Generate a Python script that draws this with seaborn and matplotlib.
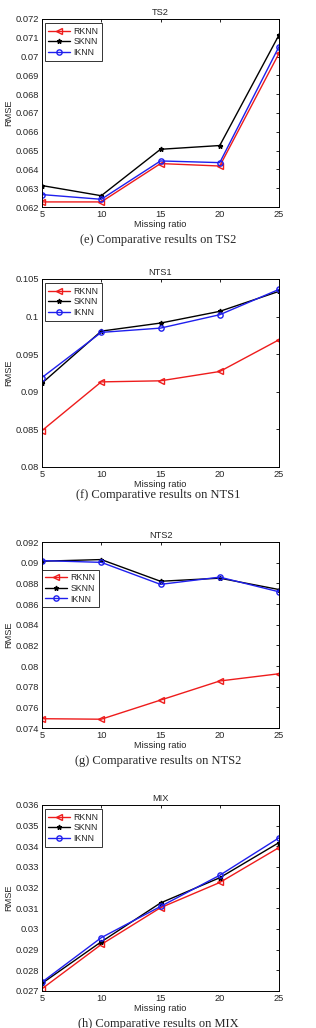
import matplotlib
matplotlib.use("Agg")
import matplotlib.pyplot as plt
import matplotlib.ticker as mticker
import seaborn as sns
import pandas as pd

# Data
ratios = [5, 10, 15, 20, 25]
methods = ["RKNN", "SKNN", "IKNN"]

ts2_rknn = [0.06227, 0.06227, 0.06431, 0.06418, 0.07017]
ts2_sknn = [0.06314, 0.06260, 0.06507, 0.06527, 0.07115]
ts2_iknn = [0.06266, 0.06241, 0.06445, 0.06436, 0.07053]

nts1_rknn = [0.08484, 0.09132, 0.09146, 0.09270, 0.09692]
nts1_sknn = [0.09115, 0.09807, 0.09914, 0.10070, 0.10336]
nts1_iknn = [0.09190, 0.09790, 0.09847, 0.10025, 0.10362]

nts2_rknn = [0.07490, 0.07485, 0.07670, 0.07855, 0.07925]
nts2_sknn = [0.09014, 0.09030, 0.08820, 0.08850, 0.08740]
nts2_iknn = [0.09020, 0.09003, 0.08790, 0.08860, 0.08718]

mix_rknn = [0.02711, 0.02925, 0.03103, 0.03225, 0.03394]
mix_sknn = [0.02737, 0.02938, 0.03126, 0.03248, 0.03418]
mix_iknn = [0.02743, 0.02958, 0.03109, 0.03260, 0.03441]

titles = ["TS2", "NTS1", "NTS2", "MIX"]
captions = ["(e) Comparative results on TS2", "(f) Comparative results on NTS1",
            "(g) Comparative results on NTS2", "(h) Comparative results on MIX"]
ylims = [(0.062, 0.072), (0.08, 0.105), (0.074, 0.092), (0.027, 0.036)]
ysteps = [0.001, 0.005, 0.002, 0.001]
series = [(ts2_rknn, ts2_sknn, ts2_iknn), (nts1_rknn, nts1_sknn, nts1_iknn),
          (nts2_rknn, nts2_sknn, nts2_iknn), (mix_rknn, mix_sknn, mix_iknn)]

sns.set_style("white")
plt.rcParams["font.family"] = ["Liberation Sans", "DejaVu Sans"]
plt.rcParams["font.size"] = 6.5

fig = plt.figure(figsize=(3.16, 10.28), dpi=100)

# axes boxes in pixels: (top, bottom)
boxes = [(19, 207), (279, 467), (542, 728), (805, 991)]
caption_y = [240, 495, 761, 1024]
legend_anchor = [(0.012, 0.978), (0.012, 0.978), (0.0, 0.852), (0.012, 0.978)]

colors = {"RKNN": "#ee1c1c", "SKNN": "black", "IKNN": "#1f1fee"}
markers = {"RKNN": "<", "SKNN": "*", "IKNN": "o"}
msizes = {"RKNN": 3.8, "SKNN": 3.5, "IKNN": 3.8}

for i in range(4):
    top, bot = boxes[i]
    ax = fig.add_axes([42 / 316, 1 - bot / 1028, (279 - 42) / 316, (bot - top) / 1028])
    df = pd.DataFrame({"ratio": ratios * 3,
                       "rmse": list(series[i][0]) + list(series[i][1]) + list(series[i][2]),
                       "method": [m for m in methods for _ in ratios]})
    for m in methods:
        sub = df[df["method"] == m]
        sns.lineplot(x="ratio", y="rmse", data=sub, ax=ax, color=colors[m],
                     marker=markers[m], markersize=msizes[m],
                     markerfacecolor="none" if m != "SKNN" else "black",
                     markeredgecolor=colors[m], markeredgewidth=1.0, linewidth=1.0, label=m)
    ax.set_xlim(5, 25)
    ax.set_ylim(*ylims[i])
    ax.set_xticks(ratios)
    ax.yaxis.set_major_locator(mticker.MultipleLocator(ysteps[i]))
    ax.yaxis.set_major_formatter(mticker.FuncFormatter(lambda v, p: format(round(v, 6), "g")))
    ax.tick_params(direction="in", length=2.5, width=0.6, top=True, right=True,
                   labelsize=6.7, pad=2, color="black")
    for s in ax.spines.values():
        s.set_color("black")
        s.set_linewidth(0.7)
    ax.set_title(titles[i], fontsize=6.7, pad=3)
    ax.set_xlabel("Missing ratio", fontsize=6.7, labelpad=1)
    ax.set_ylabel("RMSE", fontsize=6.7, labelpad=2)
    leg = ax.legend(loc="upper left", bbox_to_anchor=legend_anchor[i], fontsize=6.3,
                    frameon=True, fancybox=False, handlelength=2.5, borderpad=0.4,
                    labelspacing=0.2, handletextpad=0.35, borderaxespad=0)
    leg.get_frame().set_edgecolor("black")
    leg.get_frame().set_linewidth(0.7)
    fig.text(0.5, 1 - caption_y[i] / 1028, captions[i], ha="center", va="center",
             family=["Liberation Serif", "DejaVu Serif"], fontsize=9)

fig.savefig("out.png", dpi=100)
